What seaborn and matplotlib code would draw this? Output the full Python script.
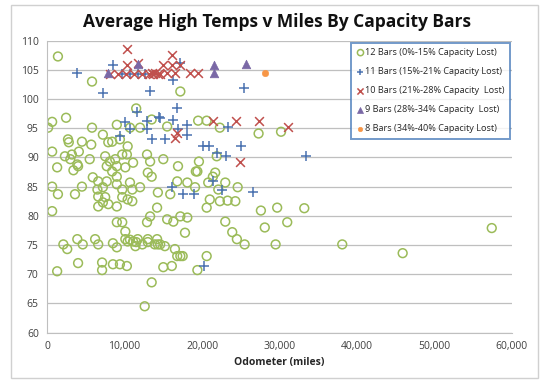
import matplotlib
matplotlib.use("Agg")
import matplotlib.pyplot as plt
import seaborn as sns
import pandas as pd
from matplotlib.patches import Rectangle
from matplotlib.ticker import FuncFormatter, MultipleLocator

# 12 bars (0%-15% capacity lost)
bars12_miles = [1400, 5800, 17200, 650, 130, 2450, 5800, 11500, 9000, 10700, 12000, 13500,
                15500, 19500, 20600, 22300, 27300, 30200,
                650, 2700, 2800, 4500, 5700, 7200, 7900, 9400, 10400, 8400, 2300, 3200, 3000,
                3900, 4100, 5500, 1300, 3400, 4000, 7500, 8100, 8800, 9700, 10300, 7700, 8400,
                9000, 10100, 11100, 5900, 6600, 7700, 9000, 9000, 10700, 12000, 12900, 13300,
                13000, 13500, 15000, 16900, 650, 1400, 3600, 4500, 6500, 7200, 6600, 7500,
                7200, 7900, 9000, 6600, 9700, 10400, 11000, 9700, 11000, 14300, 15900, 16800,
                18100, 19100, 19400, 650, 13300, 12900, 14200, 15500, 16300, 17200, 18100,
                9000, 9700, 10100, 17800,
                2100, 2600, 1300, 4000, 3900, 4600, 6200, 6600, 7100, 7100, 8500, 8500, 9000,
                9400, 10300, 10100, 10400, 11100, 11700, 11400, 12300, 13000, 13000, 12600,
                13500, 14200, 14300, 15200, 15000, 16100, 16500, 16800, 17200, 17500, 19400,
                20600, 10700, 11500, 13900, 14600,
                19600, 19200, 21700, 21400, 20800, 23000, 22100, 24600, 21000, 22300, 23300,
                24300, 20600, 27600, 29700, 33200, 23000, 28100, 31000, 23900, 24500, 25500,
                29500, 38100, 21900, 45900, 57400]
bars12_temps = [107.3, 103.0, 101.3, 96.1, 95.1, 96.8, 95.1, 98.4, 95.6, 95.1, 95.1, 96.5,
                95.3, 96.3, 96.3, 95.1, 94.1, 94.4,
                91.0, 93.1, 92.6, 92.7, 92.2, 93.9, 92.6, 93.1, 91.9, 92.7, 90.2, 90.5, 89.7,
                88.8, 91.0, 89.7, 88.3, 87.8, 88.5, 90.2, 89.3, 89.7, 90.5, 90.5, 88.5, 87.6,
                88.5, 88.3, 89.1, 86.6, 85.9, 85.9, 86.7, 85.4, 85.7, 84.9, 90.5, 89.3,
                87.4, 86.7, 89.7, 88.5, 85.0, 83.7, 83.7, 85.0, 84.5, 84.9, 83.3, 83.2,
                82.3, 82.0, 81.6, 81.6, 83.2, 82.8, 82.5, 84.5, 84.5, 84.0, 83.7, 85.9,
                85.7, 84.9, 87.6, 80.8, 79.9, 78.9, 81.4, 79.4, 79.0, 79.9, 79.7,
                78.9, 78.9, 77.3, 77.1,
                75.1, 74.3, 70.5, 71.9, 76.0, 75.1, 76.0, 75.1, 72.0, 70.7, 71.7, 75.3, 74.6,
                71.7, 71.4, 76.0, 75.6, 75.6, 76.0, 74.8, 75.1, 76.0, 75.5, 64.5,
                68.6, 76.0, 75.1, 74.8, 71.2, 71.4, 74.3, 73.1, 73.1, 73.1, 70.7,
                73.1, 75.9, 75.5, 75.1, 75.1,
                89.3, 87.6, 87.4, 86.7, 85.7, 85.7, 84.5, 84.9, 82.8, 82.5, 82.6,
                82.5, 81.4, 80.9, 81.4, 81.3, 79.0, 78.0, 78.9, 77.2, 76.0, 75.1,
                75.1, 75.1, 90.2, 73.6, 77.9]

# 11 bars (15%-21% capacity lost)
bars11_miles = [3900, 8500, 7200, 13300, 16300, 17200, 9700, 10700, 11700, 12600, 25400,
                23300, 20100, 20900, 25000, 18100, 21900, 23100, 33400, 21400, 22600, 19000,
                26600, 16100, 17500, 20300, 11600, 10100, 12900, 14600, 16800, 16300, 18100,
                10700, 12900, 16900, 9400, 13500, 15200, 14400]
bars11_temps = [104.5, 105.9, 101.1, 101.3, 103.3, 106.2, 104.3, 104.3, 104.3, 104.3, 101.9,
                95.3, 91.9, 91.9, 92.0, 93.9, 90.8, 90.2, 90.2, 85.9, 84.5, 83.7,
                84.0, 85.0, 83.7, 71.4, 97.7, 96.0, 96.3, 96.8, 98.5, 96.5, 95.6,
                94.8, 94.8, 94.8, 93.6, 93.1, 93.1, 97.0]

# 10 bars (21%-28% capacity lost)
bars10_miles = [10300, 10300, 11700, 16100, 15000, 16100, 17200, 8100, 9200, 10200, 11200,
                12300, 13200, 13500, 13700, 13900, 14300, 14600, 15500, 16500, 18500, 19500,
                16500, 16800, 21400, 24400, 27300, 31100, 24900]
bars10_temps = [108.6, 105.9, 106.2, 107.6, 105.9, 105.9, 105.9, 104.3, 104.3, 104.3, 104.3,
                104.3, 104.3, 104.5, 104.3, 104.5, 104.3, 104.3, 104.5, 104.5, 104.5, 104.5,
                93.4, 94.2, 96.3, 96.3, 96.3, 95.3, 89.3]

# 9 bars (28%-34% capacity lost)
bars9_miles = [7900, 11700, 21500, 21500, 25700]
bars9_temps = [104.5, 106.0, 105.9, 104.5, 106.0]

# 8 bars (34%-40% capacity lost)
bars8_miles = [28100]
bars8_temps = [104.5]

labels = ["12 Bars (0%-15% Capacity Lost)",
          "11 Bars (15%-21% Capacity Lost)",
          "10 Bars (21%-28% Capacity  Lost)",
          "9 Bars (28%-34% Capacity  Lost)",
          "8 Bars (34%-40% Capacity Lost)"]

series = [(bars12_miles, bars12_temps), (bars11_miles, bars11_temps),
          (bars10_miles, bars10_temps), (bars9_miles, bars9_temps),
          (bars8_miles, bars8_temps)]

frames = []
for label, (m, t) in zip(labels, series):
    frames.append(pd.DataFrame({"miles": m, "temp": t, "bars": label}))
df = pd.concat(frames, ignore_index=True)

sns.set_style("white")
plt.rcParams["font.family"] = ["Open Sans", "DejaVu Sans"]

fig = plt.figure(figsize=(5.54, 3.84), dpi=100)
ax = fig.add_axes([0.085, 0.134, 0.839, 0.76])

styles = {
    labels[0]: dict(marker="o", facecolor="none", edgecolor="#9BBB59", linewidth=1.1, s=40),
    labels[1]: dict(marker="+", color="#4A72B0", linewidth=1.1, s=48),
    labels[2]: dict(marker="x", color="#C0504D", linewidth=1.1, s=40),
    labels[3]: dict(marker="^", color="#7A68A6", edgecolor="#7A68A6", s=38),
    labels[4]: dict(marker="o", color="#F79646", edgecolor="#F79646", s=22),
}

for label in labels:
    sub = df[df["bars"] == label]
    sns.scatterplot(data=sub, x="miles", y="temp", ax=ax, label=label, legend=False,
                    **styles[label])

ax.set_xlim(0, 60000)
ax.set_ylim(60, 110)
ax.xaxis.set_major_locator(MultipleLocator(10000))
ax.yaxis.set_major_locator(MultipleLocator(5))
ax.xaxis.set_major_formatter(FuncFormatter(lambda v, p: f"{int(v):,}"))
ax.grid(axis="y", color="#BFBFBF", linewidth=0.9)
ax.set_axisbelow(True)
for side in ["top", "right"]:
    ax.spines[side].set_visible(False)
for side in ["left", "bottom"]:
    ax.spines[side].set_color("#BFBFBF")
ax.tick_params(axis="both", labelsize=7.5, labelcolor="#404040", length=0, pad=6)
ax.set_xlabel("Odometer (miles)", fontsize=7.5, fontweight="bold", color="#262626", labelpad=4)
ax.set_ylabel("")

fig.suptitle("Average High Temps v Miles By Capacity Bars", x=0.5, y=0.965,
             fontsize=12.5, fontweight="bold", color="#111111")

handles, hl = ax.get_legend_handles_labels()
leg = ax.legend(handles, hl, loc="upper right", bbox_to_anchor=(1.0, 1.0), fontsize=6.6,
                frameon=True, fancybox=False, borderpad=0.6, labelspacing=1.1,
                handletextpad=0.1, handlelength=0.8, markerscale=0.7, borderaxespad=0.2)
leg.get_frame().set_edgecolor("#4F81BD")
leg.get_frame().set_linewidth(1.4)

fig.add_artist(Rectangle((0.02, 0.016), 0.952, 0.97, transform=fig.transFigure,
                         fill=False, edgecolor="#D0D0D0", linewidth=1.0))

fig.savefig("out.png", dpi=100)
